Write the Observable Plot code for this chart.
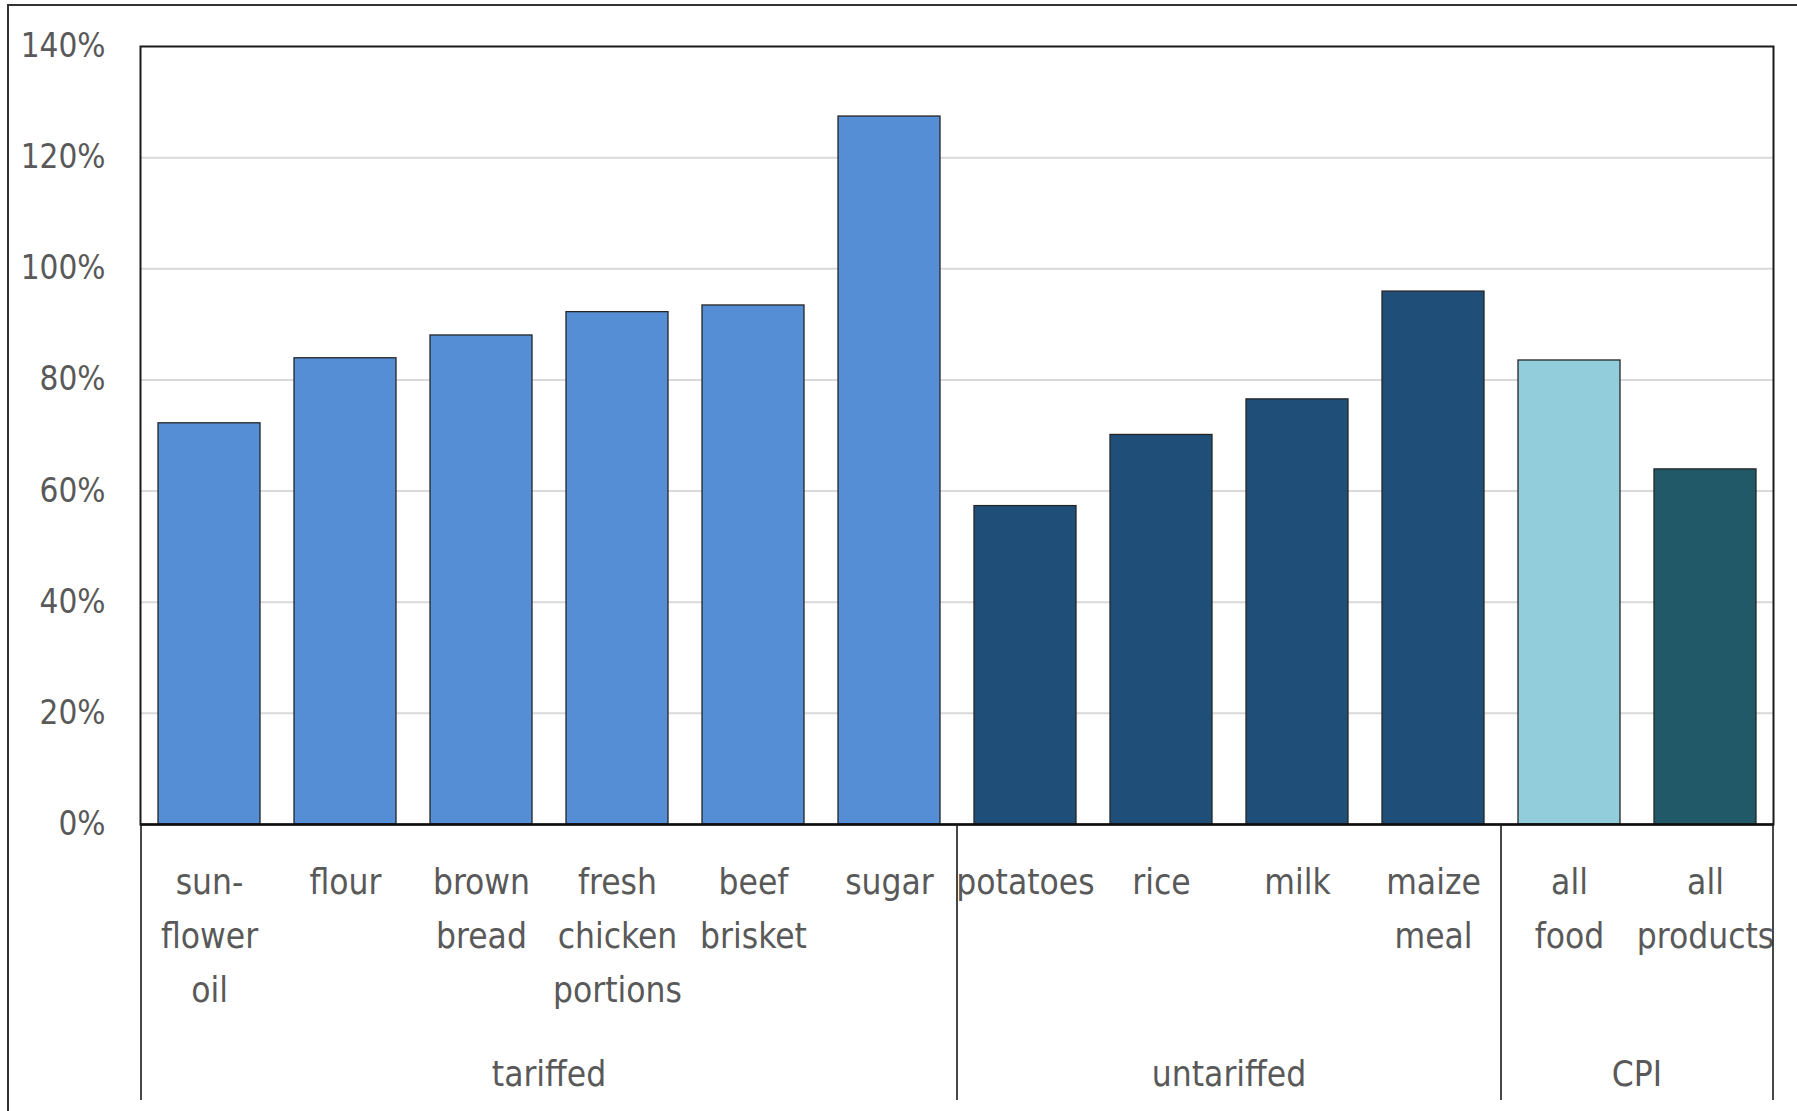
<!DOCTYPE html>
<html><head><meta charset="utf-8">
<script src="https://cdn.jsdelivr.net/npm/d3@7"></script>
<script src="https://cdn.jsdelivr.net/npm/@observablehq/plot@0.6"></script>
<style>
html,body{margin:0;padding:0;background:#fff;}
#wrap{position:relative;width:1797px;height:1111px;overflow:hidden;}
#border{position:absolute;left:7px;top:4px;right:-10px;bottom:-10px;border-top:2px solid #333;border-left:2px solid #333;pointer-events:none;}
</style></head><body><div id="wrap"><div id="chart"></div><div id="border"></div></div>
<script>
const categories = ["sun-\nflower\noil","flour","brown\nbread","fresh\nchicken\nportions","beef\nbrisket","sugar","potatoes","rice","milk","maize\nmeal","all\nfood","all\nproducts"];
const values = [72.2, 83.9, 88.0, 92.2, 93.4, 127.4, 57.3, 70.1, 76.5, 95.9, 83.5, 63.9];
const groups = ["tariffed","tariffed","tariffed","tariffed","tariffed","tariffed","untariffed","untariffed","untariffed","untariffed","CPI","CPI"];
const series = ["tariffed","tariffed","tariffed","tariffed","tariffed","tariffed","untariffed","untariffed","untariffed","untariffed","CPI food","CPI all"];
const seriesKeys = ["tariffed","untariffed","CPI food","CPI all"];
const seriesColors = ["#558ed5","#1f4e79","#92cddc","#215968"];
const groupNames = ["tariffed","untariffed","CPI"];
const yTicks = [0, 20, 40, 60, 80, 100, 120, 140];
const gridTicks = [20, 40, 60, 80, 100, 120];

const data = categories.map((c, i) => ({cat: c, value: values[i], group: groups[i], series: series[i]}));
const FONT = "'DejaVu Sans Condensed', 'DejaVu Sans', sans-serif";
const TEXT = "#595959";
const FS = 35;

function groupDecor(index, scales, vals, dims) {
  const x = scales.x;
  const step = x.step();
  const bw = x.bandwidth();
  const y0 = dims.height - dims.marginBottom;
  const yEnd = dims.height - 11;
  const g = d3.create("svg:g");
  const bounds = new Set();
  for (const name of groupNames) {
    const members = data.filter(d => d.group === name);
    const first = members[0].cat, last = members[members.length - 1].cat;
    const start = x(first) + bw / 2 - step / 2;
    const end = x(last) + bw / 2 + step / 2;
    bounds.add(Math.round(start * 10) / 10);
    bounds.add(Math.round(end * 10) / 10);
    g.append("text")
      .attr("x", (start + end) / 2)
      .attr("y", y0 + 262)
      .attr("text-anchor", "middle")
      .attr("fill", TEXT)
      .attr("font-family", FONT)
      .attr("font-size", FS)
      .text(name);
  }
  for (const b of bounds) {
    g.append("line")
      .attr("x1", b).attr("x2", b)
      .attr("y1", y0).attr("y2", yEnd)
      .attr("stroke", "#1a1a1a")
      .attr("stroke-width", 1.6);
  }
  return g.node();
}

const plot = Plot.plot({
  width: 1797,
  height: 1111,
  marginLeft: 140,
  marginRight: 24,
  marginTop: 46,
  marginBottom: 287,
  style: {fontFamily: FONT, color: TEXT, background: "transparent", overflow: "visible"},
  x: {domain: categories, paddingInner: 0.25, paddingOuter: 0.125, axis: null},
  y: {domain: [0, 140], axis: null},
  color: {domain: seriesKeys, range: seriesColors},
  marks: [
    Plot.gridY(gridTicks, {stroke: "#d9d9d9", strokeOpacity: 1, strokeWidth: 2}),
    Plot.barY(data, {x: "cat", y: "value", fill: "series", stroke: "#262626", strokeWidth: 1.3}),
    Plot.axisY({ticks: yTicks, tickFormat: d => d + "%", tickSize: 0, tickPadding: 35, fontSize: 33, fill: TEXT, label: null}),
    Plot.frame({stroke: "#1a1a1a", strokeWidth: 2}),
    Plot.ruleY([0], {stroke: "#111", strokeWidth: 2.5}),
    Plot.text(data, {x: "cat", text: "cat", frameAnchor: "bottom", lineAnchor: "top", dy: 31, lineHeight: 1.54, fontSize: FS, fill: TEXT}),
    groupDecor
  ]
});
document.getElementById("chart").appendChild(plot);
</script></body></html>
